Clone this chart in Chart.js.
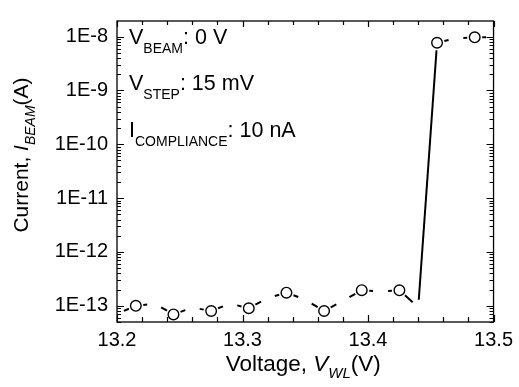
<!DOCTYPE html>
<html><head><meta charset="utf-8">
<script src="https://cdn.jsdelivr.net/npm/chart.js@4/dist/chart.umd.min.js"></script>
<style>html,body{margin:0;padding:0;background:#fff}canvas{display:block}</style>
</head><body>
<canvas id="c" width="519" height="387"></canvas>
<script>
// ---- data ----
const voltages = [13.200, 13.215, 13.230, 13.245, 13.260, 13.275, 13.290, 13.305, 13.320, 13.335, 13.350,
                  13.365, 13.380, 13.395, 13.410, 13.425, 13.440, 13.455, 13.470, 13.485, 13.500];
const currents = [7.1e-14, 1.0e-13, 1.1e-13, 6.9e-14, 9.3e-14, 8.0e-14, 1.1e-13, 9.0e-14, 1.4e-13, 1.75e-13, 1.3e-13,
                  8.0e-14, 1.23e-13, 1.95e-13, 1.85e-13, 1.94e-13, 9.4e-14, 7.7e-9, 9.3e-9, 9.7e-9, 9.8e-9];
const xTickLabels = [13.2, 13.3, 13.4, 13.5];
const yTickLabels = [1e-13, 1e-12, 1e-11, 1e-10, 1e-9, 1e-8];
const xTitleParts = [['Voltage, ', ''], ['V', 'i'], ['WL', 'is'], ['(V)', '']];
const yTitleParts = [['Current, ', ''], ['I', 'i'], ['BEAM', 'is'], ['(A)', '']];
const noteLines = [
  [['V', ''], ['BEAM', 's'], [': 0 V', '']],
  [['V', ''], ['STEP', 's'], [': 15 mV', '']],
  [['I', ''], ['COMPLIANCE', 's'], [': 10 nA', '']]
];

// ---- drawing helpers ----
const FAM = '"Liberation Sans", Arial, Helvetica, sans-serif';
function fontFor(style, size, subSize) {
  const it = style.indexOf('i') >= 0 ? 'italic ' : '';
  const sz = style.indexOf('s') >= 0 ? subSize : size;
  return it + sz + 'px ' + FAM;
}
function drawRich(ctx, parts, x, y, size, subSize, subDy, align) {
  let w = 0;
  for (const [t, s] of parts) { ctx.font = fontFor(s, size, subSize); w += ctx.measureText(t).width; }
  let cx = align === 'center' ? x - w / 2 : x;
  ctx.textBaseline = 'alphabetic';
  ctx.textAlign = 'left';
  for (const [t, s] of parts) {
    ctx.font = fontFor(s, size, subSize);
    ctx.fillText(t, cx, y + (s.indexOf('s') >= 0 ? subDy : 0));
    cx += ctx.measureText(t).width;
  }
}

const GAP = 7.5;
function gapDash(c) {
  const L = Math.hypot(c.p1.x - c.p0.x, c.p1.y - c.p0.y);
  const g = Math.min(GAP, L / 2);
  return [0, g, Math.max(L - 2 * g, 0), g];
}

const framePlugin = {
  id: 'frame',
  afterDatasetsDraw(chart) {
    const ctx = chart.ctx, a = chart.chartArea;
    const xs = chart.scales.x, ys = chart.scales.y;
    ctx.save();
    ctx.strokeStyle = '#000';
    ctx.lineWidth = 1.3;
    ctx.strokeRect(a.left, a.top, a.right - a.left, a.bottom - a.top);
    ctx.lineWidth = 1.2;
    ctx.beginPath();
    for (let k = 0; k <= 15; k++) {
      const v = xs.min + 0.02 * k;
      const px = Math.round(xs.getPixelForValue(v)) + 0.5;
      const len = (k % 5 === 0) ? 7 : 5;
      ctx.moveTo(px, a.bottom); ctx.lineTo(px, a.bottom - len);
      ctx.moveTo(px, a.top); ctx.lineTo(px, a.top + len - 1);
    }
    for (let e = -14; e <= -8; e++) {
      for (let m = 1; m <= 9; m++) {
        const v = m * Math.pow(10, e);
        if (v < ys.min || v > ys.max) continue;
        const py = Math.round(ys.getPixelForValue(v)) + 0.5;
        const len = m === 1 ? 7 : 4;
        ctx.moveTo(a.left, py); ctx.lineTo(a.left + len, py);
        ctx.moveTo(a.right, py); ctx.lineTo(a.right - len, py);
      }
    }
    ctx.stroke();
    ctx.restore();
  },
  afterDraw(chart) {
    const ctx = chart.ctx, a = chart.chartArea;
    ctx.save();
    ctx.fillStyle = '#000';
    drawRich(ctx, xTitleParts, (a.left + a.right) / 2 - 2, 371, 22.5, 15, 7, 'center');
    ctx.save();
    ctx.translate(28, 155);
    ctx.rotate(-Math.PI / 2);
    drawRich(ctx, yTitleParts, 0, 0, 21, 14, 7, 'center');
    ctx.restore();
    const base = [44, 90, 137];
    noteLines.forEach((ln, i) => drawRich(ctx, ln, a.left + 12, base[i], 21.5, 14, 9, 'left'));
    ctx.restore();
  }
};

const pts = voltages.map((v, i) => ({ x: v, y: currents[i] }));

new Chart(document.getElementById('c').getContext('2d'), {
  type: 'line',
  data: {
    datasets: [
      {
        data: pts, borderColor: '#000', borderWidth: 2, pointRadius: 0, tension: 0, fill: false,
        segment: { borderDash: gapDash }, order: 2
      },
      {
        data: pts, showLine: false,
        pointRadius: c => (c.dataIndex % 2 === 1 ? 5.3 : 0),
        pointBackgroundColor: '#fff', pointBorderColor: '#000', pointBorderWidth: 1.4, order: 1
      }
    ]
  },
  options: {
    responsive: false, animation: false, devicePixelRatio: 1,
    layout: { padding: { top: 13, right: 22, left: 0, bottom: 0 } },
    plugins: { legend: { display: false }, tooltip: { enabled: false } },
    scales: {
      x: {
        type: 'linear', min: 13.2, max: 13.5,
        afterFit: s => { s.height = 65; },
        afterBuildTicks: s => { s.ticks = xTickLabels.map(v => ({ value: v })); },
        grid: { display: false, drawTicks: false }, border: { display: false },
        ticks: { padding: 6, color: '#000', font: { family: FAM, size: 20 }, maxRotation: 0, autoSkip: false,
                 callback: v => Number(v).toFixed(1) }
      },
      y: {
        type: 'logarithmic', min: 5e-14, max: 1.95e-8,
        afterFit: s => { s.width = 117; },
        afterBuildTicks: s => { s.ticks = yTickLabels.map(v => ({ value: v })); },
        grid: { display: false, drawTicks: false }, border: { display: false },
        ticks: { padding: 9, color: '#000', font: { family: FAM, size: 20 }, autoSkip: false,
                 callback: v => '1E' + Math.round(Math.log10(v)) }
      }
    }
  },
  plugins: [framePlugin]
});
</script>
</body></html>
